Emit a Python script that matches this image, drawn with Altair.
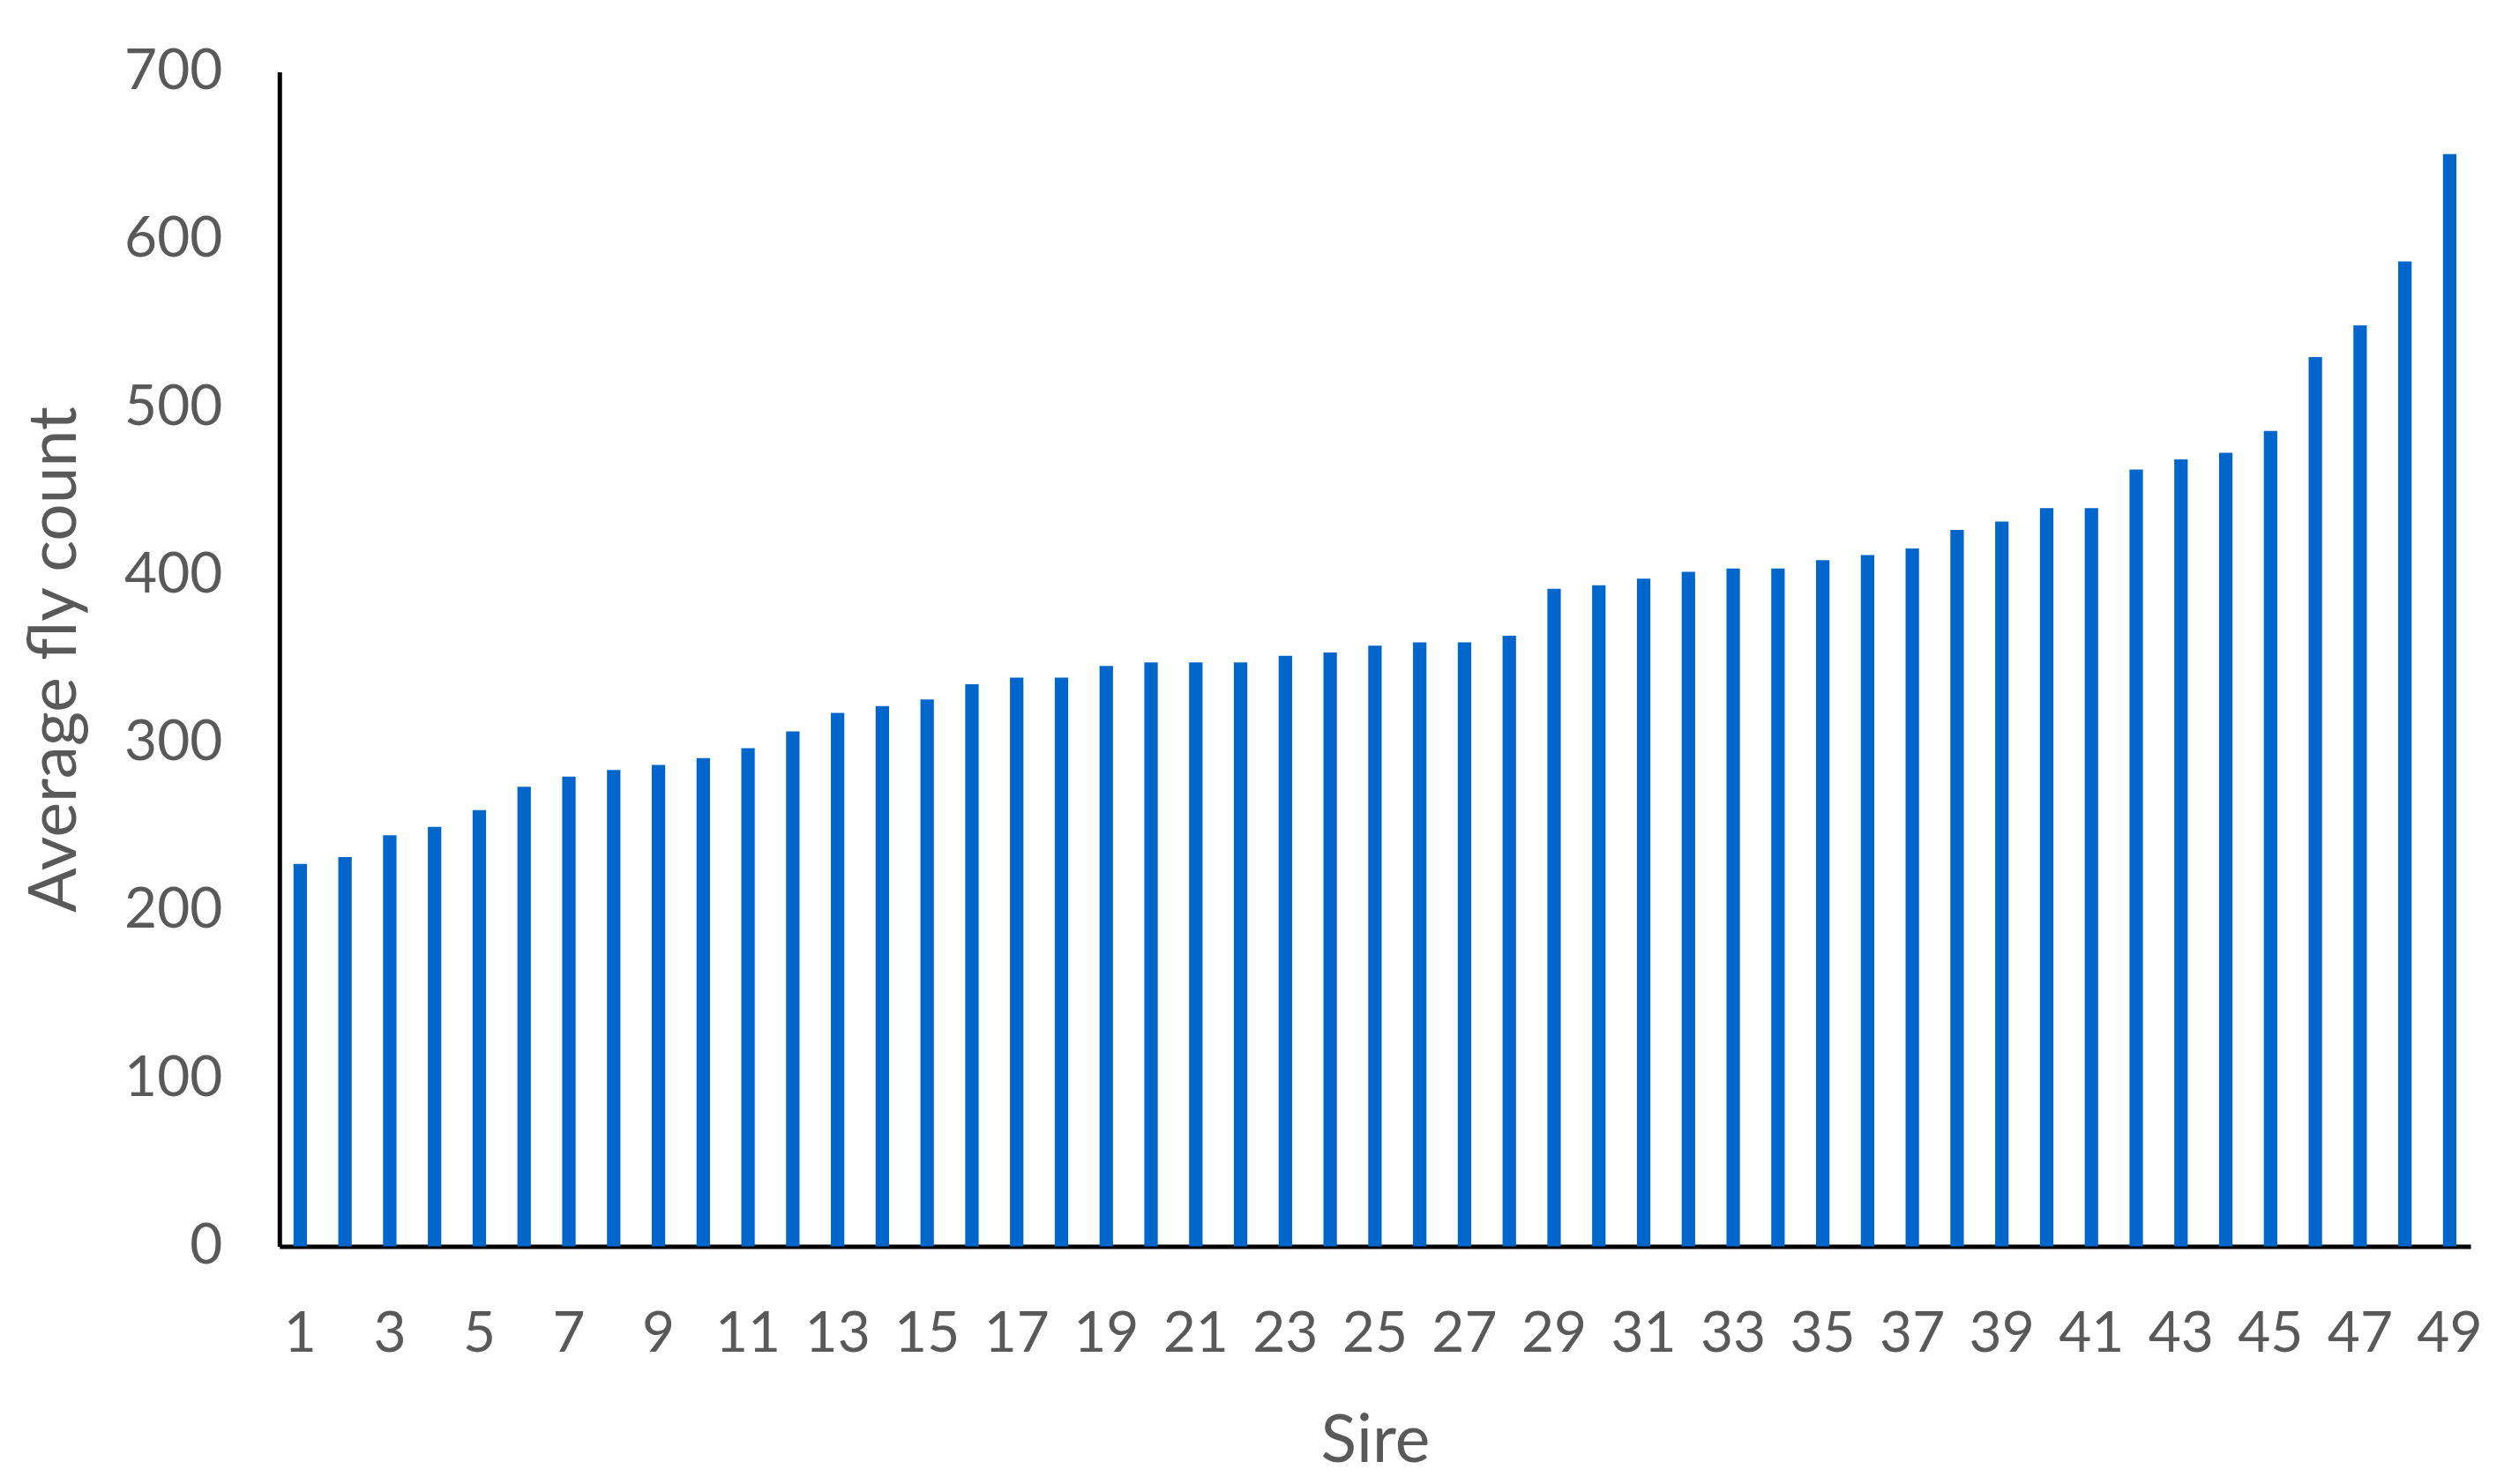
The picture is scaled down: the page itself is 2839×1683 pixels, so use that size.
import altair as alt
import pandas as pd

sires = list(range(1, 50))
fly_counts = [228, 232, 245, 250, 260, 274, 280, 284, 287, 291,
              297, 307, 318, 322, 326, 335, 339, 339, 346, 348,
              348, 348, 352, 354, 358, 360, 360, 364, 392, 394,
              398, 402, 404, 404, 409, 412, 416, 427, 432, 440,
              440, 463, 469, 473, 486, 530, 549, 587, 651]
x_tick_labels = [str(i) for i in range(1, 50, 2)]
y_ticks = [0, 100, 200, 300, 400, 500, 600, 700]

df = pd.DataFrame({"Sire": [str(s) for s in sires], "Count": fly_counts})

FONT = "Lato"
GRAY = "#595959"

chart = alt.Chart(df).mark_bar(color="#0066CC").encode(
    x=alt.X("Sire:O", sort=[str(s) for s in sires],
            scale=alt.Scale(paddingInner=0.70, paddingOuter=0.315),
            axis=alt.Axis(values=x_tick_labels, title="Sire", labelAngle=0,
                          ticks=False, labelPadding=68, labelFontSize=64,
                          labelColor=GRAY, labelFont=FONT,
                          domainColor="black", domainWidth=5,
                          titleFont=FONT, titleFontSize=75, titleColor=GRAY,
                          titleFontWeight="normal", titleY=221,
                          titleBaseline="middle")),
    y=alt.Y("Count:Q", scale=alt.Scale(domain=[0, 700], nice=False),
            axis=alt.Axis(values=y_ticks, title="Average fly count",
                          grid=False, ticks=False, labelPadding=65,
                          labelFontSize=64, labelColor=GRAY, labelFont=FONT,
                          domainColor="black", domainWidth=5,
                          titleFont=FONT, titleFontSize=75, titleColor=GRAY,
                          titleFontWeight="normal", titleX=-254,
                          titleBaseline="middle")),
).properties(
    width=2486, height=1333,
    autosize=alt.AutoSizeParams(type="none"),
    padding={"left": 309, "top": 73, "right": 30, "bottom": 260},
).configure_view(stroke=None)

chart.save("out.html", embed_options={"renderer": "svg", "actions": False})
